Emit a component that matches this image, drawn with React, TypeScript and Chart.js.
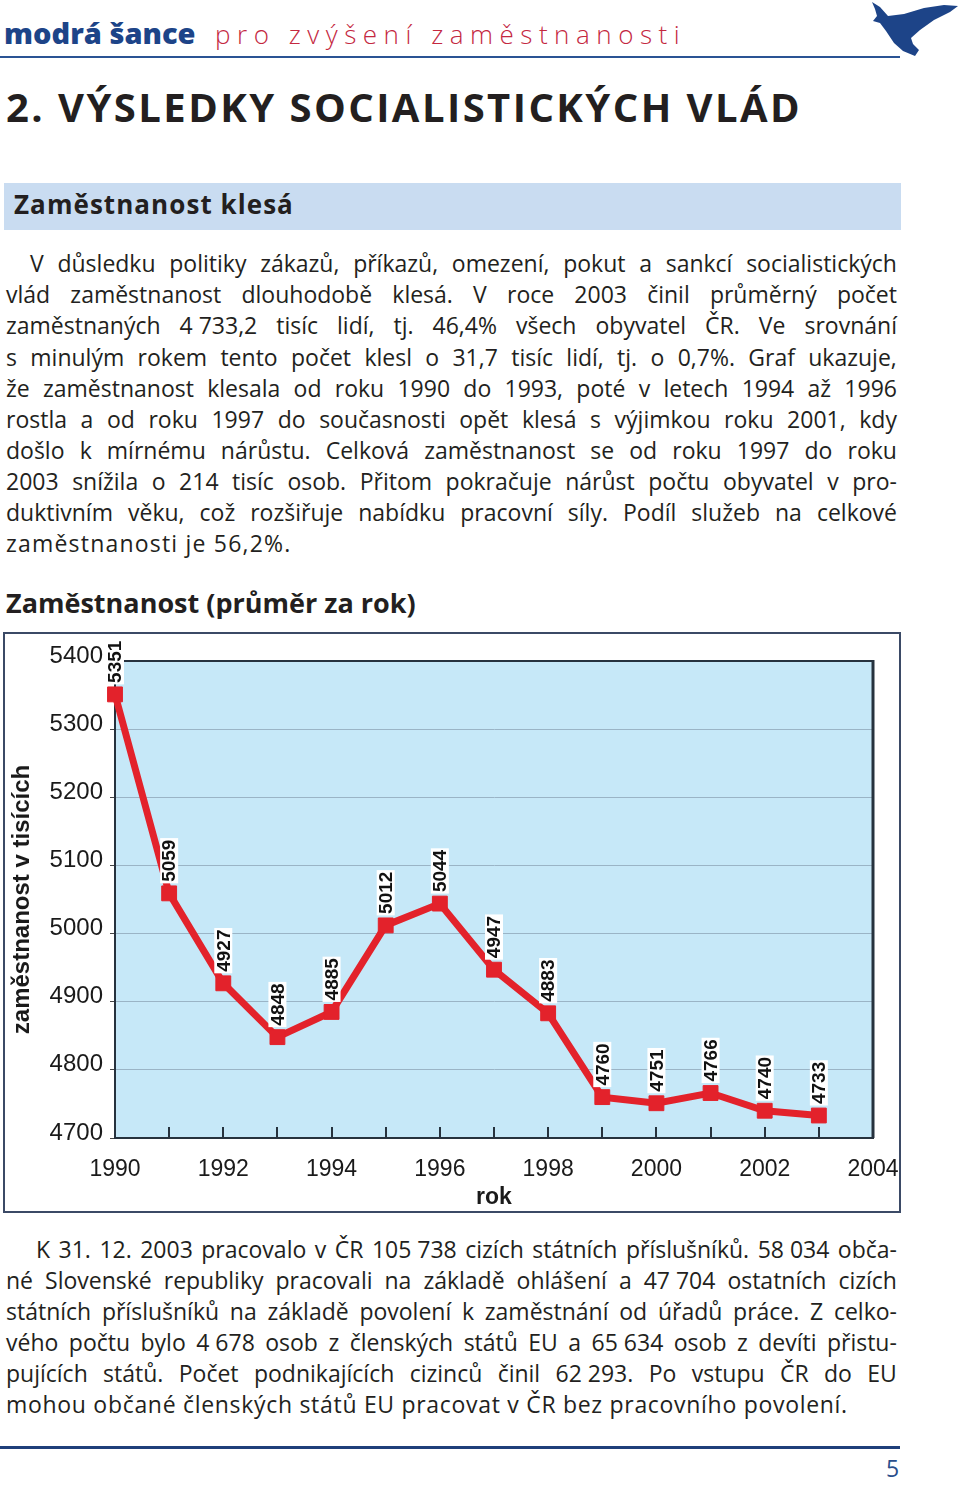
import React, { useEffect, useRef } from 'react';
import { Chart, registerables } from 'chart.js';

Chart.register(...registerables);

// ---------- DATA ----------
const years = [1990, 1991, 1992, 1993, 1994, 1995, 1996, 1997, 1998, 1999, 2000, 2001, 2002, 2003];
const employment = [5351, 5059, 4927, 4848, 4885, 5012, 5044, 4947, 4883, 4760, 4751, 4766, 4740, 4733];
const xTickLabels = [1990, 1992, 1994, 1996, 1998, 2000, 2002, 2004];
const yTickValues = [4700, 4800, 4900, 5000, 5100, 5200, 5300, 5400];

const para1 = [
  'V důsledku politiky zákazů, příkazů, omezení, pokut a sankcí socialistických',
  'vlád zaměstnanost dlouhodobě klesá. V roce 2003 činil průměrný počet',
  'zaměstnaných 4\u00a0733,2 tisíc lidí, tj. 46,4% všech obyvatel ČR. Ve srovnání',
  's minulým rokem tento počet klesl o 31,7 tisíc lidí, tj. o 0,7%. Graf ukazuje,',
  'že zaměstnanost klesala od roku 1990 do 1993, poté v letech 1994 až 1996',
  'rostla a od roku 1997 do současnosti opět klesá s výjimkou roku 2001, kdy',
  'došlo k mírnému nárůstu. Celková zaměstnanost se od roku 1997 do roku',
  '2003 snížila o 214 tisíc osob. Přitom pokračuje nárůst počtu obyvatel v pro-',
  'duktivním věku, což rozšiřuje nabídku pracovní síly. Podíl služeb na celkové',
  'zaměstnanosti je 56,2%.',
];

const para2 = [
  'K 31. 12. 2003 pracovalo v ČR 105\u00a0738 cizích státních příslušníků. 58\u00a0034 obča-',
  'né Slovenské republiky pracovali na základě ohlášení a 47\u00a0704 ostatních cizích',
  'státních příslušníků na základě povolení k zaměstnání od úřadů práce. Z celko-',
  'vého počtu bylo 4\u00a0678 osob z členských států EU a 65\u00a0634 osob z devíti přistu-',
  'pujících států. Počet podnikajících cizinců činil 62\u00a0293. Po vstupu ČR do EU',
  'mohou občané členských států EU pracovat v ČR bez pracovního povolení.',
];

// ---------- STYLE CONSTANTS ----------
const RED = '#e3222b';
const DARK = '#26323e';
const GRID = '#9ab4c6';
const PLOT_BG = '#c6e8f8';
const AXIS_FONT = '"Liberation Sans", Arial, Helvetica, sans-serif';
const TEXT_FONT = '"Open Sans", "Noto Sans", sans-serif';
const NAVY = '#1d4488';

// ---------- HTML TEXT HELPERS ----------
type LineProps = {
  text: string;
  left: number;
  right?: number;
  baseline: number;
  size: number;
  weight?: number;
  color?: string;
  mode?: 'words' | 'chars' | 'none';
  spacing?: number;
};

function Line({ text, left, right, baseline, size, weight = 400, color = '#231f20', mode = 'none', spacing = 0 }: LineProps) {
  const lh = size * 1.2;
  const top = baseline - 0.988 * size;
  const base: React.CSSProperties = {
    position: 'absolute',
    left,
    top,
    height: lh,
    lineHeight: lh + 'px',
    fontFamily: TEXT_FONT,
    fontSize: size,
    fontWeight: weight,
    color,
    whiteSpace: 'nowrap',
    letterSpacing: spacing,
  };
  if (mode === 'none' || right === undefined) {
    return <div style={base}>{text}</div>;
  }
  const parts = mode === 'words' ? text.split(' ') : Array.from(text).map((c) => (c === ' ' ? '\u00a0' : c));
  return (
    <div style={{ ...base, width: right - left, display: 'flex', justifyContent: 'space-between' }}>
      {parts.map((p, i) => (
        <span key={i}>{p}</span>
      ))}
    </div>
  );
}

// ---------- CHART PLUGIN ----------
const decorPlugin = {
  id: 'decor',
  beforeDraw(chart: any) {
    const { ctx, chartArea: a } = chart;
    ctx.save();
    ctx.fillStyle = PLOT_BG;
    ctx.fillRect(a.left, a.top, a.right - a.left, a.bottom - a.top);
    ctx.restore();
  },
  beforeDatasetsDraw(chart: any) {
    const { ctx, chartArea: a, scales } = chart;
    ctx.save();
    ctx.strokeStyle = DARK;
    ctx.lineWidth = 2;
    ctx.beginPath();
    ctx.moveTo(a.left, a.top);
    ctx.lineTo(a.right, a.top);
    ctx.stroke();
    ctx.lineWidth = 3;
    ctx.beginPath();
    ctx.moveTo(a.right, a.top - 1);
    ctx.lineTo(a.right, a.bottom);
    ctx.stroke();
    ctx.lineWidth = 2;
    ctx.beginPath();
    years.forEach((yr) => {
      const x = Math.round(scales.x.getPixelForValue(yr));
      ctx.moveTo(x, a.bottom);
      ctx.lineTo(x, a.bottom - 11);
    });
    ctx.stroke();
    ctx.restore();
  },
  afterDatasetsDraw(chart: any) {
    const { ctx } = chart;
    const meta = chart.getDatasetMeta(0);
    ctx.save();
    ctx.font = 'bold 19px ' + AXIS_FONT;
    meta.data.forEach((pt: any, i: number) => {
      const txt = String(employment[i]);
      const w = ctx.measureText(txt).width;
      ctx.save();
      ctx.translate(pt.x, pt.y - 10);
      ctx.rotate(-Math.PI / 2);
      ctx.fillStyle = '#ffffff';
      ctx.fillRect(0, -9, w + 3, 18);
      ctx.fillStyle = '#111111';
      ctx.textAlign = 'left';
      ctx.textBaseline = 'middle';
      ctx.fillText(txt, 1.5, 1);
      ctx.restore();
    });
    ctx.restore();
  },
};

function EmploymentChart() {
  const ref = useRef<HTMLCanvasElement | null>(null);
  useEffect(() => {
    if (!ref.current) return;
    const chart = new Chart(ref.current, {
      type: 'line',
      data: {
        datasets: [
          {
            data: years.map((y, i) => ({ x: y, y: employment[i] })),
            borderColor: RED,
            backgroundColor: RED,
            borderWidth: 7,
            pointStyle: 'rect',
            pointRadius: 10.5,
            pointBorderWidth: 1,
            pointBorderColor: RED,
            pointBackgroundColor: RED,
            tension: 0,
            clip: false,
          } as any,
        ],
      },
      options: {
        responsive: false,
        animation: false,
        layout: { padding: { top: 27, right: 26, left: 0, bottom: 0 } },
        plugins: { legend: { display: false }, tooltip: { enabled: false } },
        scales: {
          x: {
            type: 'linear',
            min: 1990,
            max: 2004,
            afterFit: (s: any) => {
              s.height = 73;
              s.paddingLeft = 0;
              s.paddingRight = 0;
            },
            afterBuildTicks: (s: any) => {
              s.ticks = xTickLabels.map((v) => ({ value: v }));
            },
            grid: { display: false },
            border: { display: true, color: DARK, width: 2 },
            ticks: {
              color: '#1a1a1a',
              font: { family: AXIS_FONT, size: 23 },
              padding: 10,
              maxRotation: 0,
              autoSkip: false,
              callback: (v: any) => String(v),
            },
            title: {
              display: true,
              text: 'rok',
              color: '#1a1a1a',
              font: { family: AXIS_FONT, size: 23, weight: 'bold' },
              padding: { top: 0, bottom: 0 },
            },
          },
          y: {
            type: 'linear',
            min: 4700,
            max: 5400,
            afterFit: (s: any) => {
              s.width = 110;
            },
            afterBuildTicks: (s: any) => {
              s.ticks = yTickValues.map((v) => ({ value: v }));
            },
            grid: {
              color: (c: any) => (c.tick && (c.tick.value === 4700 || c.tick.value === 5400) ? DARK : GRID),
              tickColor: '#444',
              tickLength: 5,
              lineWidth: 1,
            },
            border: { display: true, color: DARK, width: 2 },
            ticks: {
              color: '#1a1a1a',
              font: { family: AXIS_FONT, size: 24 },
              padding: 7,
              labelOffset: -5,
              callback: (v: any) => String(v),
            },
            title: {
              display: true,
              text: 'zaměstnanost v tisících',
              color: '#1a1a1a',
              font: { family: AXIS_FONT, size: 24, weight: 'bold' },
              padding: { top: 3, bottom: 0 },
            },
          },
        },
      } as any,
      plugins: [decorPlugin],
    });
    return () => chart.destroy();
  }, []);
  return <canvas ref={ref} width={894} height={577} style={{ display: 'block', width: 894, height: 577 }} />;
}

function Bird() {
  return (
    <svg width={96} height={62} viewBox="0 0 96 62" style={{ position: 'absolute', left: 866, top: 0 }}>
      <path
        d="M6 2 L14 7 L22 16 L38 14 L58 8 L78 5 L92 6 L84 12 L68 20 L54 30 L45 38 L47 44 L53 50 L49 56 L37 51 L28 43 L20 31 L14 23 L7 21 L11 16 L9 9 Z"
        fill={NAVY}
      />
    </svg>
  );
}

export default function App() {
  return (
    <div
      style={{
        position: 'absolute',
        left: 0,
        top: 0,
        width: 960,
        height: 1486,
        background: '#ffffff',
        overflow: 'hidden',
        fontFamily: TEXT_FONT,
      }}
    >
      {/* header */}
      <Line text="modrá šance" left={4} right={192} baseline={45} size={29} weight={800} color={NAVY} mode="chars" />
      <Line text="pro zvýšení zaměstnanosti" left={215} right={680} baseline={45} size={26} weight={300} color="#c4283f" mode="chars" />
      <div style={{ position: 'absolute', left: 0, top: 56, width: 900, height: 2, background: '#2a5394' }} />
      <Bird />

      {/* title */}
      <Line text="2. VÝSLEDKY SOCIALISTICKÝCH VLÁD" left={6} right={800} baseline={123} size={40} weight={700} color="#231f20" mode="chars" />

      {/* band */}
      <div style={{ position: 'absolute', left: 4, top: 183, width: 897, height: 47, background: '#c9dcf1' }} />
      <Line text="Zaměstnanost klesá" left={14} right={293} baseline={215} size={26} weight={700} color="#231f20" mode="chars" />

      {/* paragraph 1 */}
      {para1.map((t, i) => (
        <Line
          key={'p1' + i}
          text={t}
          left={i === 0 ? 30 : 6}
          right={897}
          baseline={273 + 31.1 * i}
          size={23}
          mode={i === para1.length - 1 ? 'none' : 'words'}
          spacing={i === para1.length - 1 ? 1.2 : 0}
        />
      ))}

      {/* chart title */}
      <Line text="Zaměstnanost (průměr za rok)" left={6} right={410} baseline={614} size={27} weight={700} color="#231f20" mode="chars" />

      {/* chart frame */}
      <div
        style={{
          position: 'absolute',
          left: 3,
          top: 632,
          width: 898,
          height: 581,
          border: '2px solid #3b4a66',
          boxSizing: 'border-box',
        }}
      >
        <EmploymentChart />
      </div>

      {/* paragraph 2 */}
      {para2.map((t, i) => (
        <Line
          key={'p2' + i}
          text={t}
          left={i === 0 ? 36 : 6}
          right={897}
          baseline={1259 + 31 * i}
          size={23}
          mode={i === para2.length - 1 ? 'none' : 'words'}
          spacing={i === para2.length - 1 ? 0.7 : 0}
        />
      ))}

      {/* footer */}
      <div style={{ position: 'absolute', left: 0, top: 1446, width: 900, height: 3, background: '#1f3f7a' }} />
      <Line text="5" left={886} baseline={1478} size={23} color="#2a4f8c" />
    </div>
  );
}
